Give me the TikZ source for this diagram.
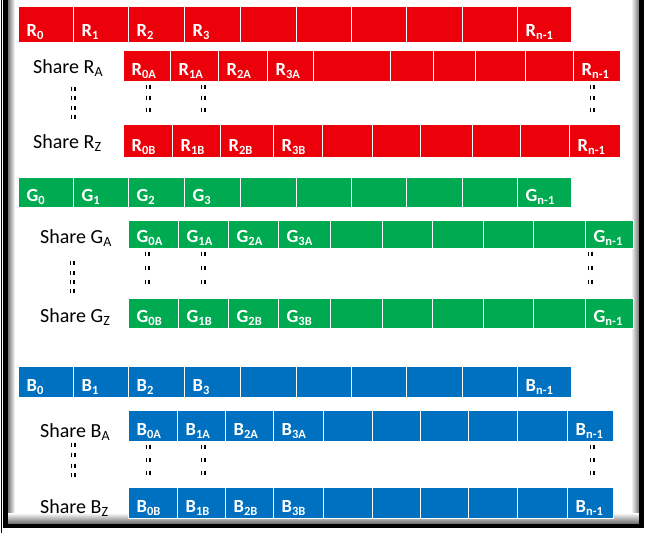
\documentclass[tikz,border=0pt]{standalone}
\usepackage{fontspec}
\setmainfont{Carlito}
\definecolor{cr}{RGB}{236,0,10}
\definecolor{cg}{RGB}{0,170,80}
\definecolor{cb}{RGB}{0,112,192}
\newcommand\sbx[1]{\raisebox{-3pt}{\fontsize{12.5}{12.5}\selectfont #1}}
\newcommand\sbs[1]{\raisebox{-3.5pt}{\fontsize{14}{14}\selectfont #1}}
\tikzset{
  cellbox/.style={draw=white, line width=1.2pt, inner sep=0pt, anchor=north west},
  celltxt/.style={anchor=base west, inner sep=0pt, text=white, font=\fontsize{18.5}{18.5}\selectfont\bfseries},
  sharetxt/.style={anchor=base west, inner sep=0pt, font=\fontsize{20}{20}\selectfont},
  dmk/.style={line width=1.8pt, black}
}
\newcommand\cellrow[5]{%
  \foreach \xa/\xb/\lab [count=\k] in {#5}{
    \node[cellbox, fill=#2, minimum width={(\xb-\xa)*1pt}, minimum height={(#4-#3)*1pt}] (#1-\k) at (\xa,#3) {};
    \node[celltxt] (#1-\k-t) at ([xshift=8.5pt,yshift=6.5pt]#1-\k.south west) {\lab};
  }
}
\newcommand\dmark[2]{\draw[dmk] (#1-1.6,#2-2.3) -- (#1-1.6,#2+2.3) (#1+1.6,#2-2.3) -- (#1+1.6,#2+2.3);}
\begin{document}
\begin{tikzpicture}[x=1pt,y=-1pt]
\useasboundingbox (0,0) rectangle (649,533);
\fill[white] (0,0) rectangle (649,533);
% frame with shadow
\shade[left color=black!60, right color=white] (7,0) rectangle (15,524);
\shade[right color=black!60, left color=white] (631,0) rectangle (640,524);
\shade[top color=white, bottom color=black!60] (7,513) rectangle (640,524);
\draw[line width=4.5pt] (5.5,0) -- (5.5,526) -- (641.5,526) -- (641.5,0);
\draw[line width=0.8pt] (1,0) -- (1,533);
% red
\cellrow{R}{cr}{6}{42}{18/73/{R\sbx{0}},73/128/{R\sbx{1}},128/184/{R\sbx{2}},184/240/{R\sbx{3}},240/296/{},296/351/{},351/406/{},406/462/{},462/517/{},517/571/{R\sbx{n-1}}}
\cellrow{RA}{cr}{50}{81}{123/170/{R\sbx{0A}},170/218/{R\sbx{1A}},218/267/{R\sbx{2A}},267/313/{R\sbx{3A}},313/390/{},390/433/{},433/475/{},475/525/{},525/573/{},573/620/{R\sbx{n-1}}}
\cellrow{RZ}{cr}{124}{157}{123/172/{R\sbx{0B}},172/220/{R\sbx{1B}},220/273/{R\sbx{2B}},273/322/{R\sbx{3B}},322/372/{},372/420/{},420/472/{},472/520/{},520/569/{},569/620/{R\sbx{n-1}}}
\node[sharetxt] (sRA) at (33,73) {Share R\sbs{A}};
\node[sharetxt] (sRZ) at (33,148) {Share R\sbs{Z}};
\foreach \yy in {89,98,108,117} {\dmark{73}{\yy}}
\foreach \xx in {148,203,592} {\foreach \yy in {87,98,110} {\dmark{\xx}{\yy}}}
% green
\cellrow{G}{cg}{177}{207}{18/73/{G\sbx{0}},73/128/{G\sbx{1}},128/184/{G\sbx{2}},184/240/{G\sbx{3}},240/296/{},296/351/{},351/406/{},406/462/{},462/517/{},517/571/{G\sbx{n-1}}}
\cellrow{GA}{cg}{220}{248}{128/178/{G\sbx{0A}},178/228/{G\sbx{1A}},228/278/{G\sbx{2A}},278/330/{G\sbx{3A}},330/382/{},382/432/{},432/483/{},483/533/{},533/585/{},585/633/{G\sbx{n-1}}}
\cellrow{GZ}{cg}{298}{328}{128/178/{G\sbx{0B}},178/228/{G\sbx{1B}},228/278/{G\sbx{2B}},278/330/{G\sbx{3B}},330/382/{},382/432/{},432/483/{},483/533/{},533/585/{},585/633/{G\sbx{n-1}}}
\node[sharetxt] (sGA) at (40,243) {Share G\sbs{A}};
\node[sharetxt] (sGZ) at (40,322) {Share G\sbs{Z}};
\foreach \yy in {263,273,282,291} {\dmark{72}{\yy}}
\foreach \xx in {147,203,590} {\foreach \yy in {254,268,282} {\dmark{\xx}{\yy}}}
% blue
\cellrow{B}{cb}{366}{397}{18/73/{B\sbx{0}},73/128/{B\sbx{1}},128/184/{B\sbx{2}},184/240/{B\sbx{3}},240/296/{},296/351/{},351/406/{},406/462/{},462/517/{},517/571/{B\sbx{n-1}}}
\cellrow{BA}{cb}{410}{441}{128/177/{B\sbx{0A}},177/225/{B\sbx{1A}},225/273/{B\sbx{2A}},273/323/{B\sbx{3A}},323/372/{},372/420/{},420/468/{},468/517/{},517/567/{},567/613/{B\sbx{n-1}}}
\cellrow{BZ}{cb}{487}{518}{128/177/{B\sbx{0B}},177/225/{B\sbx{1B}},225/273/{B\sbx{2B}},273/323/{B\sbx{3B}},323/372/{},372/420/{},420/468/{},468/517/{},517/567/{},567/613/{B\sbx{n-1}}}
\node[sharetxt] (sBA) at (40,437) {Share B\sbs{A}};
\node[sharetxt] (sBZ) at (40,513) {Share B\sbs{Z}};
\foreach \yy in {445,455,466,475} {\dmark{73}{\yy}}
\foreach \xx in {148,203,592} {\foreach \yy in {447,460,473} {\dmark{\xx}{\yy}}}
\end{tikzpicture}
\end{document}
